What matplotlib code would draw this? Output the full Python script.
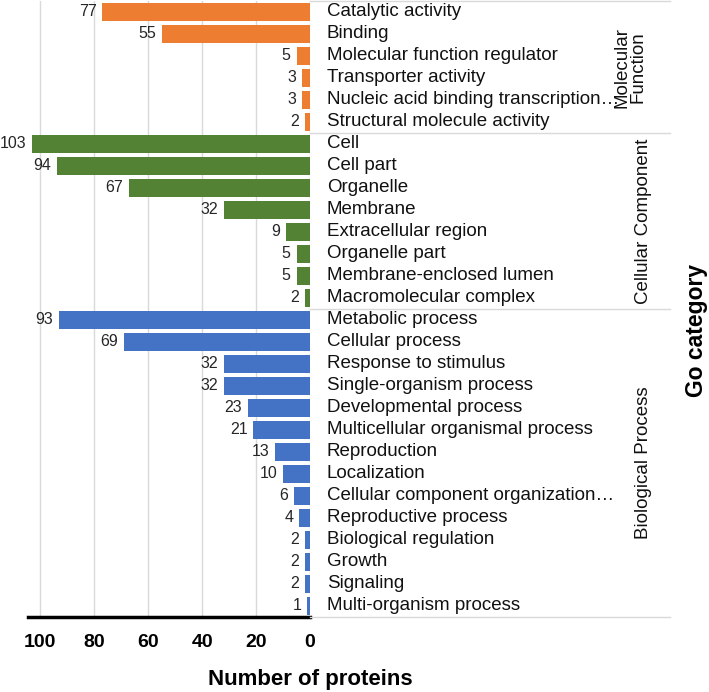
import matplotlib.pyplot as plt
import matplotlib.transforms as mtransforms
from matplotlib.lines import Line2D

plt.rcParams['font.family'] = ['Liberation Sans', 'DejaVu Sans']

# ---------------- data ----------------
mf_terms = ["Catalytic activity", "Binding", "Molecular function regulator",
            "Transporter activity", "Nucleic acid binding transcription\u2026",
            "Structural molecule activity"]
mf_counts = [77, 55, 5, 3, 3, 2]

cc_terms = ["Cell", "Cell part", "Organelle", "Membrane", "Extracellular region",
            "Organelle part", "Membrane-enclosed lumen", "Macromolecular complex"]
cc_counts = [103, 94, 67, 32, 9, 5, 5, 2]

bp_terms = ["Metabolic process", "Cellular process", "Response to stimulus",
            "Single-organism process", "Developmental process",
            "Multicellular organismal process", "Reproduction", "Localization",
            "Cellular component organization\u2026", "Reproductive process",
            "Biological regulation", "Growth", "Signaling", "Multi-organism process"]
bp_counts = [93, 69, 32, 32, 23, 21, 13, 10, 6, 4, 2, 2, 2, 1]

group_names = ["Molecular\nFunction", "Cellular Component", "Biological Process"]
group_colors = ["#ED7D31", "#548235", "#4472C4"]
x_ticks = [0, 20, 40, 60, 80, 100]

groups = [(mf_terms, mf_counts), (cc_terms, cc_counts), (bp_terms, bp_counts)]

# ---------------- figure ----------------
W, H = 709, 692
fig = plt.figure(figsize=(W / 100, H / 100), dpi=100)
ax = fig.add_axes([28 / W, (H - 617) / H, (310 - 28) / W, 616 / H])

n_total = sum(len(t) for t, _ in groups)
pos = 0
bounds = [-0.5]
label_tr = mtransforms.blended_transform_factory(ax.transAxes, ax.transData)
for (terms, counts), color in zip(groups, group_colors):
    ys = list(range(pos, pos + len(terms)))
    ax.barh(ys, counts, height=0.86, color=color, zorder=2)
    for y, c, t in zip(ys, counts, terms):
        ax.text(c + 2.2, y, str(c), ha='right', va='center', fontsize=11.5, color='#262626')
        ax.text(1.06, y, t, transform=label_tr, ha='left', va='center',
                fontsize=13.5, color='#111111', clip_on=False)
    pos += len(terms)
    bounds.append(pos - 0.5)

ax.set_xlim(104.6, 0)
ax.set_ylim(n_total - 0.5, -0.5)
ax.set_xticks(x_ticks)
ax.set_xticklabels([str(v) for v in x_ticks], fontsize=14, fontweight='bold')
ax.tick_params(axis='x', length=0, pad=12)
ax.set_yticks([])
ax.grid(axis='x', color='#d9d9d9', linewidth=1, zorder=0)
for s in ['top', 'left', 'right']:
    ax.spines[s].set_visible(False)
ax.spines['bottom'].set_linewidth(2.5)
ax.spines['bottom'].set_color('black')

# group separators and group labels
tr = mtransforms.blended_transform_factory(fig.transFigure, ax.transData)
for b in bounds:
    fig.add_artist(Line2D([310 / W, 670 / W], [b, b], transform=tr, color='#d9d9d9', linewidth=1))
group_x = [630, 643, 643]
for i, name in enumerate(group_names):
    mid = (bounds[i] + bounds[i + 1]) / 2
    fig.text(group_x[i] / W, mid, name, transform=tr, rotation=90,
             ha='center', va='center', fontsize=13.5, color='#111111',
             multialignment='center', linespacing=0.95)

fig.text(310 / W, 1 - 680 / H, "Number of proteins", ha='center', va='center',
         fontsize=16, fontweight='bold')
fig.text(697 / W, 1 - 330 / H, "Go category", ha='center', va='center',
         fontsize=16.5, fontweight='bold', rotation=90)

fig.savefig("out.png", dpi=100)
